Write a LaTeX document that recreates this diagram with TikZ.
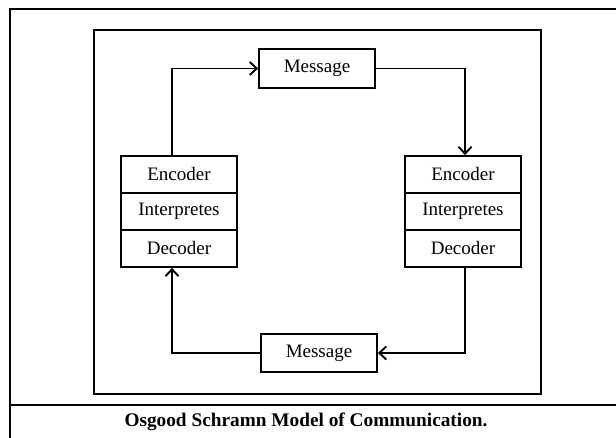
\documentclass[tikz,border=0pt]{standalone}
\usepackage{fontspec}
\setmainfont{Liberation Serif}
\usetikzlibrary{arrows.meta}

\begin{document}
\begin{tikzpicture}[x=1pt,y=-1pt,
  frame/.style={line width=1.9pt},
  cell/.style={draw,line width=1.7pt,minimum width=116pt,minimum height=37pt,
    inner sep=0pt,font=\fontsize{19}{21}\selectfont},
  msgbox/.style={draw,line width=1.7pt,minimum width=116pt,minimum height=38.5pt,
    inner sep=0pt,font=\fontsize{19}{21}\selectfont},
  flow/.style={line width=1.9pt,-{Straight Barb[length=7pt,width=13pt,line width=1.9pt]}}]
\useasboundingbox (0,0) rectangle (616,438);

% outer page frame (open on the right and at the bottom)
\draw[frame] (616,9) -- (10,9) -- (10,438);
\draw[frame] (10,405) -- (616,405);

% inner frame around the model
\draw[frame] (94,30) rectangle (541,394);

% messages
\node[msgbox] (msgT) at (317,68.5) {Message};
\node[msgbox] (msgB) at (319,353) {Message};

% sender / receiver stacks
\node[cell] (encL) at (179,174.5) {Encoder};
\node[cell] (intL) at (179,211.5) {Interpretes};
\node[cell] (decL) at (179,248.5) {Decoder};
\node[cell] (encR) at (463,174.5) {Encoder};
\node[cell] (intR) at (463,211.5) {Interpretes};
\node[cell] (decR) at (463,248.5) {Decoder};

% columns of the connectors
\coordinate (lx) at (172,0);
\coordinate (rx) at (465,0);

\draw[flow] (encL.north -| lx) |- (msgT.west);
\draw[flow] (msgT.east) -| (encR.north -| rx);
\draw[flow] (decR.south -| rx) |- (msgB.east);
\draw[flow] (msgB.west) -| (decL.south -| lx);

% caption
\node[font=\fontsize{19.3}{21}\selectfont\bfseries] (cap) at (306,421.5)
  {Osgood Schramn Model of Communication.};
\end{tikzpicture}
\end{document}
